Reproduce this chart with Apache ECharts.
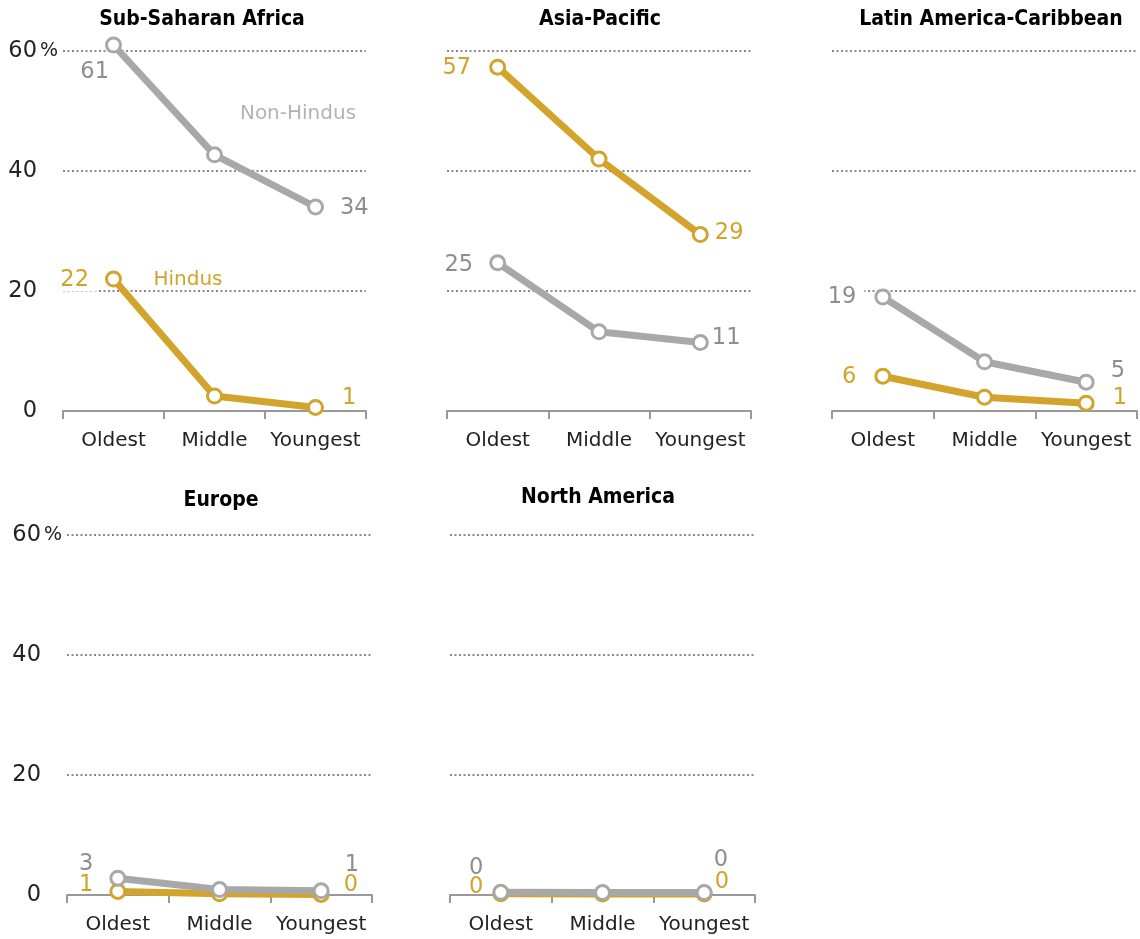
<!DOCTYPE html>
<html><head><meta charset="utf-8">
<script src="https://cdn.jsdelivr.net/npm/echarts@6/dist/echarts.min.js"></script>
<style>html,body{margin:0;padding:0;background:#fff}#c{width:1140px;height:939px}</style>
</head><body><div id="c"></div>
<script>
// ---- data ----
const categories = ['Oldest', 'Middle', 'Youngest'];
const regions = ['Sub-Saharan Africa', 'Asia-Pacific', 'Latin America-Caribbean', 'Europe', 'North America'];
const yTicks = [0, 20, 40, 60];
const hindusSSA = [22, 2.5, 0.6];
const nonHindusSSA = [61, 42.7, 34];
const hindusAP = [57.3, 42, 29.4];
const nonHindusAP = [24.7, 13.2, 11.4];
const hindusLAC = [5.8, 2.3, 1.3];
const nonHindusLAC = [19, 8.2, 4.8];
const hindusEU = [0.6, 0.2, 0.1];
const nonHindusEU = [2.8, 0.9, 0.7];
const hindusNA = [0.2, 0.15, 0.15];
const nonHindusNA = [0.45, 0.4, 0.4];

const hindus = [hindusSSA, hindusAP, hindusLAC, hindusEU, hindusNA];
const nonHindus = [nonHindusSSA, nonHindusAP, nonHindusLAC, nonHindusEU, nonHindusNA];

// ---- style ----
const GOLD = '#d2a42c', GOLD_TXT = '#d1a32b';
const GRAY = '#a8a8a8', GRAY_TXT = '#8e8e8e', GRAY_LEG = '#b3b3b3';
const FONT = '"DejaVu Sans", "Liberation Sans", Arial, sans-serif';
const TFONT = '"DejaVu Sans Condensed", "DejaVu Sans", sans-serif';

const grids = [
  {left: 63, top: 51, width: 303, height: 360},
  {left: 447, top: 51, width: 304, height: 360},
  {left: 832, top: 51, width: 305, height: 360},
  {left: 67, top: 535, width: 305, height: 360},
  {left: 450, top: 535, width: 305, height: 360}
];
const showY = [true, false, false, true, false];
const titlePos = [[202, 9], [600, 9], [991, 9], [221, 490], [598, 487]];
const labelBg = [true, true, true, false, false];

// label placement for first/last point of each series: [position, [dx, dy]]
const labelSpec = [
  {H: {0: ['left', [-3, 1]], 2: ['right', [13, -9]]}, N: {0: ['left', [17, 27]], 2: ['right', [11, 1]]}},
  {H: {0: ['left', [-5, 1]], 2: ['right', [1, -1]]}, N: {0: ['left', [-3, 2]], 2: ['right', [-2, -4]]}},
  {H: {0: ['left', [-5, 1]], 2: ['right', [13, -5]]}, N: {0: ['left', [-5, 0]], 2: ['right', [11, -11]]}},
  {H: {0: ['left', [-11, -6]], 2: ['right', [9, -9]]}, N: {0: ['left', [-11, -14]], 2: ['right', [10, -26]]}},
  {H: {0: ['left', [-4, -7]], 2: ['right', [-3, -12]]}, N: {0: ['left', [-4, -24]], 2: ['right', [-4, -32]]}}
];

function makeData(vals, spec, color, bg) {
  return vals.map((v, i) => {
    const s = spec[i];
    if (!s) return {value: v, label: {show: false}};
    const useBg = bg && s[0] === 'left';
    return {
      value: v,
      label: {
        show: true, position: s[0], offset: s[1],
        formatter: () => String(Math.round(v)),
        color: color, fontSize: 22.5, fontFamily: FONT,
        backgroundColor: useBg ? '#fff' : 'transparent',
        padding: useBg ? [0, 8, 0, 2] : 0
      }
    };
  });
}

const xAxes = [], yAxes = [], series = [], graphics = [];
grids.forEach((g, i) => {
  xAxes.push({
    gridIndex: i, type: 'category', data: categories, boundaryGap: true,
    axisLine: {lineStyle: {color: '#999', width: 2}},
    axisTick: {show: true, interval: 0, length: 8, lineStyle: {color: '#999', width: 2}},
    axisLabel: {interval: 0, fontSize: 20, color: '#222', margin: 20, fontFamily: FONT},
    splitLine: {show: false}
  });
  yAxes.push({
    gridIndex: i, type: 'value', min: yTicks[0], max: yTicks[yTicks.length - 1], interval: 20,
    axisLine: {show: false}, axisTick: {show: false},
    axisLabel: {
      show: showY[i], margin: 5, fontSize: 22.5, fontFamily: FONT, color: '#222',
      formatter: v => v === 60 ? '{n|60}{p|%}' : '{n|' + v + '}{h|%}',
      rich: {
        n: {fontSize: 22.5, color: '#222', fontFamily: FONT},
        p: {fontSize: 19, color: '#222', fontFamily: FONT, padding: [0, 0, 0, 3]},
        h: {fontSize: 19, color: 'rgba(0,0,0,0)', fontFamily: FONT, padding: [0, 0, 0, 3]}
      }
    },
    splitLine: {show: true, lineStyle: {color: '#8a8a8a', width: 2, type: [2, 2.5]}}
  });
  const common = {
    type: 'line', xAxisIndex: i, yAxisIndex: i, symbol: 'circle', symbolSize: 14,
    clip: false, animation: false, emphasis: {disabled: true}, z: 3
  };
  series.push(Object.assign({}, common, {
    name: 'Hindus',
    data: makeData(hindus[i], labelSpec[i].H, GOLD_TXT, labelBg[i]),
    lineStyle: {color: GOLD, width: 7},
    itemStyle: {color: '#fff', borderColor: GOLD, borderWidth: 3}
  }));
  series.push(Object.assign({}, common, {
    name: 'Non-Hindus',
    data: makeData(nonHindus[i], labelSpec[i].N, GRAY_TXT, labelBg[i]),
    lineStyle: {color: GRAY, width: 7},
    itemStyle: {color: '#fff', borderColor: GRAY, borderWidth: 3}
  }));
  graphics.push({
    type: 'text', x: titlePos[i][0], y: titlePos[i][1],
    style: {text: regions[i], textAlign: 'center', textVerticalAlign: 'top',
      font: 'bold 21px ' + TFONT, fill: '#000'}
  });
});

graphics.push({type: 'text', x: 298, y: 114, z: 10,
  style: {text: 'Non-Hindus', textAlign: 'center', textVerticalAlign: 'middle', font: '20px ' + FONT, fill: GRAY_LEG}});
graphics.push({type: 'text', x: 188, y: 280, z: 10,
  style: {text: 'Hindus', textAlign: 'center', textVerticalAlign: 'middle', font: '20px ' + FONT, fill: GOLD_TXT}});

const chart = echarts.init(document.getElementById('c'), null, {renderer: 'canvas'});
chart.setOption({
  backgroundColor: '#fff',
  animation: false,
  grid: grids,
  xAxis: xAxes,
  yAxis: yAxes,
  series: series,
  graphic: graphics
});
</script></body></html>
